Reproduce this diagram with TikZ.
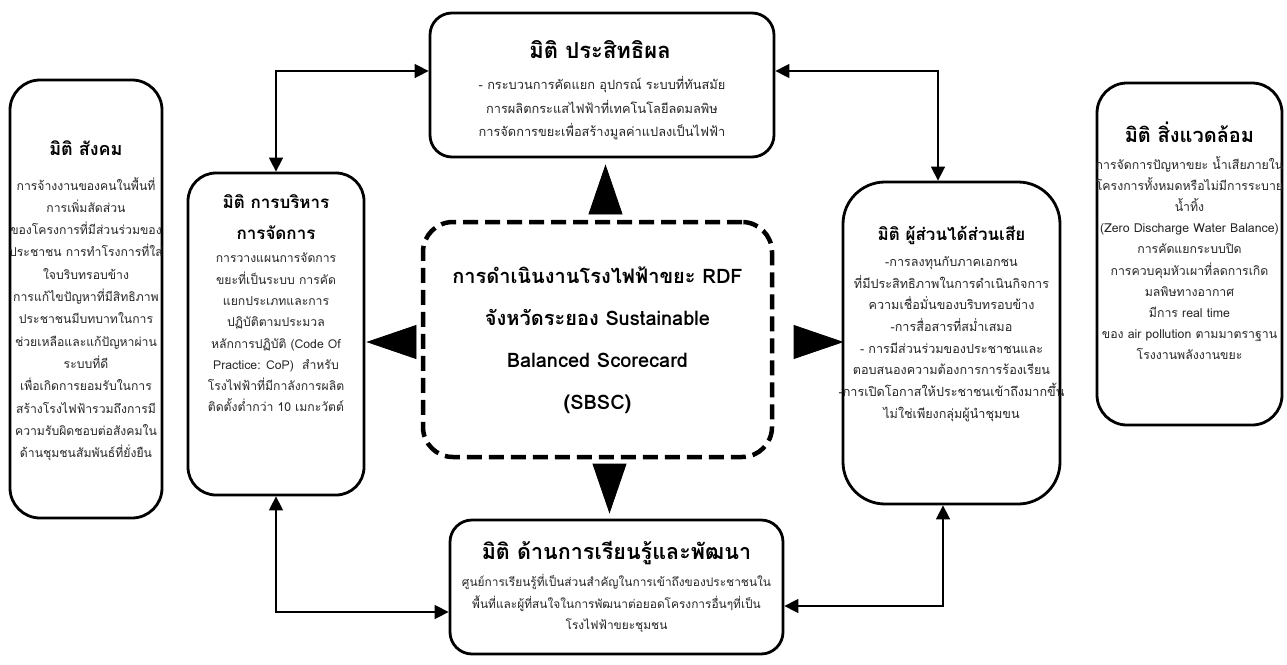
\documentclass[tikz,border=0pt]{standalone}
\usepackage{fontspec}
\setmainfont[Script=Thai]{Loma}
\usetikzlibrary{arrows.meta}
\definecolor{bodygray}{HTML}{262626}
\tikzset{
  dimbox/.style={draw, line width=2.8pt, rounded corners=#1, fill=white, inner sep=0pt},
  dimbox/.default=28pt,
  dimtitle/.style={align=center, inner sep=0pt, font=\bfseries\fontsize{#1}{31pt}\selectfont},
  dimtitle/.default=17pt,
  dimbody/.style={align=center, inner sep=0pt, text=bodygray},
  conn/.style={line width=1.6pt, {Triangle[length=14pt,width=14pt]}-{Triangle[length=14pt,width=14pt]}},
  bigarrow/.style={line width=0.8pt, -{Triangle[length=50pt,width=34pt]}},
}
\begin{document}
\begin{tikzpicture}[x=1pt,y=-1pt]
\useasboundingbox (0,0) rectangle (1287,664);
\fill[white] (0,0) rectangle (1287,664);

% boxes
\node[dimbox=30pt, minimum width=152pt, minimum height=438pt] (soc) at (86,299) {};
\node[dimbox=28pt, minimum width=176pt, minimum height=322pt] (mgmt) at (276,334) {};
\node[dimbox=22pt, minimum width=344pt, minimum height=144pt] (eff) at (602,85) {};
\node[dimbox=30pt, line width=4.5pt, dash pattern=on 15pt off 7pt, minimum width=349pt, minimum height=235pt] (cen) at (597.5,339.5) {};
\node[dimbox=42pt, minimum width=217pt, minimum height=322pt] (stk) at (951.5,343) {};
\node[dimbox=30pt, minimum width=185pt, minimum height=342pt] (env) at (1189.5,254) {};
\node[dimbox=22pt, minimum width=333pt, minimum height=134pt] (lrn) at (616.5,587) {};

% texts
\node[dimtitle=18pt] (socT) at (86,148) {มิติ สังคม};
\node[dimbody, font=\fontsize{12.2pt}{22.3pt}\selectfont] (socB) at (86,319) {การจ้างงานของคนในพื้นที่\\การเพิ่มสัดส่วน\\ของโครงการที่มีส่วนร่วมของ\\ประชาชน การทำโรงการที่ใส่\\ใจบริบทรอบข้าง\\การแก้ไขปัญหาที่มีสิทธิภาพ\\ประชาชนมีบทบาทในการ\\ช่วยเหลือและแก้ปัญหาผ่าน\\ระบบที่ดี\\เพื่อเกิดการยอมรับในการ\\สร้างโรงไฟฟ้ารวมถึงการมี\\ความรับผิดชอบต่อสังคมใน\\ด้านชุมชนสัมพันธ์ที่ยั่งยืน};

\node[dimtitle=17pt] (mgmtT) at (276,217.5) {มิติ การบริหาร\\การจัดการ};
\node[dimbody, font=\fontsize{12.2pt}{21.3pt}\selectfont] (mgmtB) at (276,332.5) {การวางแผนการจัดการ\\ขยะที่เป็นระบบ การคัด\\แยกประเภทและการ\\ปฏิบัติตามประมวล\\หลักการปฏิบัติ (Code Of\\Practice: CoP)~~สำหรับ\\โรงไฟฟ้าที่มีกาลังการผลิต\\ติดตั้งต่ำกว่า 10 เมกะวัตต์};

\node[dimtitle=22pt] (effT) at (600,50) {มิติ ประสิทธิผล};
\node[dimbody, font=\fontsize{12.8pt}{23.5pt}\selectfont] (effB) at (602,108.5) {- กระบวนการคัดแยก อุปกรณ์ ระบบที่ทันสมัย\\การผลิตกระแสไฟฟ้าที่เทคโนโลยีลดมลพิษ\\การจัดการขยะเพื่อสร้างมูลค่าแปลงเป็นไฟฟ้า};

\node[align=center, inner sep=0pt, font=\bfseries\fontsize{20pt}{42pt}\selectfont] (cenT) at (597.5,340) {การดำเนินงานโรงไฟฟ้าขยะ RDF\\จังหวัดระยอง Sustainable\\Balanced Scorecard\\(SBSC)};

\node[dimtitle=17pt] (stkT) at (951.5,235) {มิติ ผู้ส่วนได้ส่วนเสีย};
\node[dimbody, font=\fontsize{12.6pt}{21.7pt}\selectfont] (stkB) at (951.5,339) {-การลงทุนกับภาคเอกชน\\ที่มีประสิทธิภาพในการดำเนินกิจการ\\ความเชื่อมั่นของบริบทรอบข้าง\\-การสื่อสารที่สม่ำเสมอ\\- การมีส่วนร่วมของประชาชนและ\\ตอบสนองความต้องการการร้องเรียน\\-การเปิดโอกาสให้ประชาชนเข้าถึงมากขึ้น\\ไม่ใช่เพียงกลุ่มผู้นำชุมขน};

\node[dimtitle=20pt] (envT) at (1189.5,132) {มิติ สิ่งแวดล้อม};
\node[dimbody, font=\fontsize{12.3pt}{21.1pt}\selectfont] (envB) at (1189.5,258) {การจัดการปัญหาขยะ น้ำเสียภายใน\\โครงการทั้งหมดหรือไม่มีการระบาย\\น้ำทิ้ง\\(Zero Discharge Water Balance)\\การคัดแยกระบบปิด\\การควบคุมหัวเผาที่ลดการเกิด\\มลพิษทางอากาศ\\มีการ real time\\ของ air pollution ตามมาตราฐาน\\โรงงานพลังงานขยะ};

\node[dimtitle=21.5pt] (lrnT) at (616.5,553) {มิติ ด้านการเรียนรู้และพัฒนา};
\node[dimbody, font=\fontsize{11.9pt}{21.5pt}\selectfont] (lrnB) at (616.5,603.5) {ศูนย์การเรียนรู้ที่เป็นส่วนสำคัญในการเข้าถึงของประชาชนใน\\พื้นที่และผู้ที่สนใจในการพัฒนาต่อยอดโครงการอื่นๆที่เป็น\\โรงไฟฟ้าขยะชุมชน};

% thin two-headed connectors
\draw[conn] (mgmt.north) |- ([yshift=14pt]eff.west);
\draw[conn] ([yshift=14pt]eff.east) -| ([xshift=-13.5pt]stk.north);
\draw[conn] (mgmt.south) |- ([yshift=-25pt]lrn.west);
\draw[conn] ([yshift=-19pt]lrn.east) -| ([xshift=-8.5pt]stk.south);

% big triangles from the centre
\draw[bigarrow, shorten <=9pt, shorten >=6pt] ([xshift=8pt]cen.north) -- ([xshift=8pt]cen.north |- eff.south);
\draw[bigarrow, shorten <=6pt, shorten >=5pt] ([xshift=12pt]cen.south) -- ([xshift=12pt]cen.south |- lrn.north);
\draw[bigarrow, shorten <=6pt, shorten >=1pt] ([yshift=-2.5pt]cen.west) -- ([yshift=-2.5pt]cen.west -| mgmt.east);
\draw[bigarrow, shorten <=23pt, shorten >=-2pt] ([yshift=-2.5pt]cen.east) -- ([yshift=-2.5pt]cen.east -| stk.west);
\end{tikzpicture}
\end{document}
